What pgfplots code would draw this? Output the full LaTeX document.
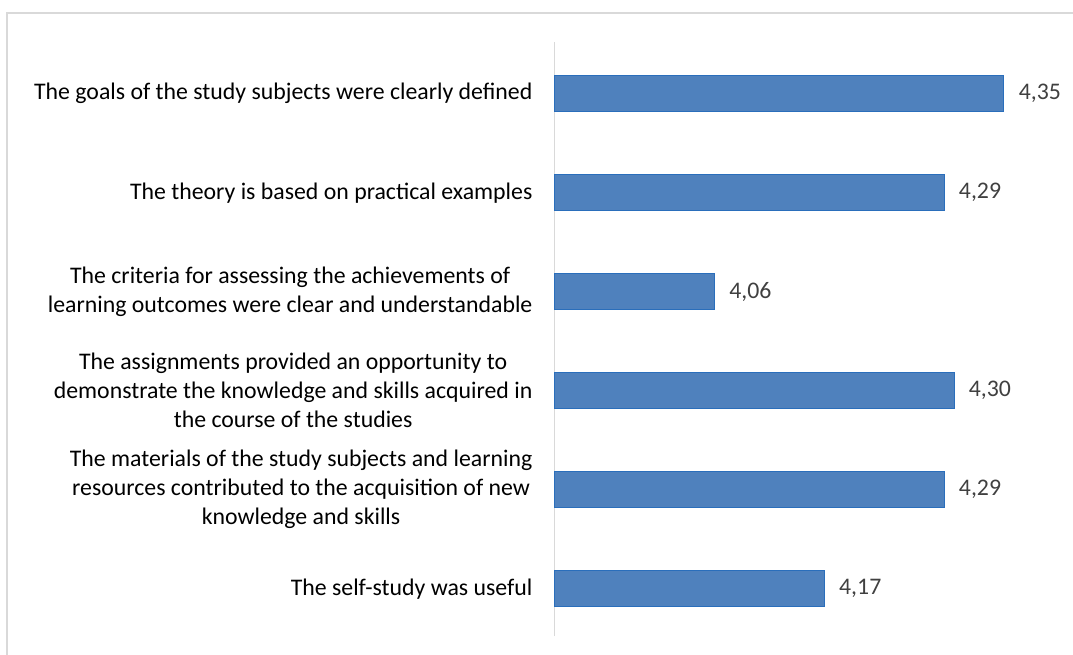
\documentclass[border=0pt]{standalone}
\usepackage{pgfplots}
\pgfplotsset{compat=1.18}
\usepackage{fontspec}
\setmainfont{Carlito}

\definecolor{barfill}{HTML}{4F81BD}
\definecolor{baredge}{HTML}{2A6EBB}
\definecolor{framegray}{HTML}{D9D9D9}
\definecolor{valgray}{HTML}{404040}

\newcommand{\lblfont}{\fontsize{23.8}{29}\selectfont}

\begin{document}
\begin{tikzpicture}[x=1pt,y=1pt]
\useasboundingbox (0,0) rectangle (1073,655);
% outer chart frame (only top and left edge visible)
\draw[framegray, line width=1.5pt] (7,0) -- (7,642) -- (1073,642);
\begin{axis}[
    at={(556,19)}, anchor=south west,
    scale only axis, width=499pt, height=594pt,
    xbar, bar width=36pt,
    xmin=3.9, xmax=4.4,
    ymin=-0.5, ymax=5.5,
    hide x axis,
    axis y line*=left,
    y axis line style={framegray, line width=1.2pt, -},
    ytick={0,...,5},
    yticklabels={
        {The self-study was useful},
        {The materials of the study subjects and learning\\resources contributed to the acquisition of new\\knowledge and skills},
        {The assignments provided an opportunity to\\demonstrate the knowledge and skills acquired in\\the course of the studies},
        {The criteria for assessing the achievements of\\learning outcomes were clear and understandable},
        {The theory is based on practical examples},
        {The goals of the study subjects were clearly defined}
    },
    yticklabel style={align=center, font=\lblfont, text=black, xshift=-19pt, yshift=-2pt},
    major tick length=0pt,
    nodes near coords,
    nodes near coords style={font=\lblfont, text=valgray, xshift=11pt,
        /pgf/number format/.cd, fixed, fixed zerofill, precision=2, use comma, assume math mode=true},
    clip=false,
]
\addplot[fill=barfill, draw=baredge, line width=1pt, bar shift=-2pt] table {
x y
4.17 0
4.29 1
4.30 2
4.06 3
4.29 4
4.35 5
};
\end{axis}
\end{tikzpicture}
\end{document}
